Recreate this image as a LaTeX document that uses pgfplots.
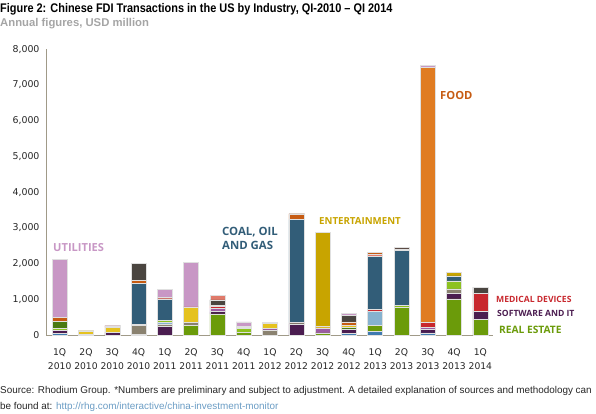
\documentclass[border=0pt]{standalone}
\usepackage{fontspec}
\setmainfont{Liberation Sans}
\newfontfamily\titlefont{Liberation Sans}[FakeStretch=0.875]
\newfontfamily\labfont{Open Sans}
\newfontfamily\tickfont{DejaVu Sans}
\usepackage{pgfplots}
\pgfplotsset{compat=1.18}
\usepackage{pgfplotstable}

\definecolor{cblue}{HTML}{3F7AB0}
\definecolor{cre}{HTML}{6B9B0A}
\definecolor{csw}{HTML}{4B1D50}
\definecolor{ctan}{HTML}{8A8270}
\definecolor{clb}{HTML}{86B2CF}
\definecolor{clg}{HTML}{8DC21F}
\definecolor{cdg}{HTML}{4B7A12}
\definecolor{cmp}{HTML}{9B5BA3}
\definecolor{cye}{HTML}{E5C21F}
\definecolor{cred}{HTML}{C8282E}
\definecolor{ccoal}{HTML}{325D78}
\definecolor{csal}{HTML}{E07A6A}
\definecolor{cbrick}{HTML}{C65B12}
\definecolor{cgold}{HTML}{C8A400}
\definecolor{cfood}{HTML}{E07C22}
\definecolor{cdgray}{HTML}{4A4540}
\definecolor{cpink}{HTML}{C897C5}
\definecolor{caxis}{HTML}{A09A88}
\definecolor{csub}{HTML}{A5A5A5}
\definecolor{curl}{HTML}{6A9CC4}

\pgfplotstableread{
x blue re sw tan lb lg dg mp ye red coal sal brick gold food dgray pink salT
0 56 0 64 0 0 67 186 0 0 0 0 0 131 0 0 0 1616 0
1 0 0 0 20 0 0 0 0 95 0 0 0 0 0 0 0 25 0
2 0 0 64 20 0 0 0 0 130 45 0 0 0 0 0 0 11 0
3 28 0 0 242 0 0 0 0 0 38 1130 0 100 0 0 470 0 0
4 0 0 252 56 56 56 0 0 0 0 590 48 0 0 0 0 224 0
5 0 262 0 83 0 0 0 0 420 0 0 0 20 0 0 0 1240 0
6 0 590 65 0 0 0 0 90 0 50 0 0 30 0 0 160 0 135
7 0 65 0 0 0 120 0 0 0 30 0 0 0 0 0 35 120 0
8 0 0 0 120 0 0 0 70 140 0 0 0 0 0 0 0 25 0
9 0 0 310 40 0 0 0 0 0 0 2890 0 150 0 0 0 10 0
10 0 60 0 0 0 0 0 140 50 0 0 0 0 2620 0 0 10 0
11 50 0 110 0 0 0 50 0 60 0 0 0 100 0 0 170 70 0
12 110 170 0 0 390 0 0 0 0 45 1490 50 50 0 0 0 0 0
13 0 790 0 0 0 40 0 0 0 0 1550 30 0 0 0 50 0 0
14 60 0 90 0 0 0 0 60 0 150 0 0 0 0 7150 0 50 0
15 0 1010 160 120 0 225 0 0 0 0 140 0 0 90 0 0 0 0
16 0 440 213 0 0 0 0 0 0 515 0 0 0 0 0 170 0 0
}\datatable

\begin{document}
\begin{tikzpicture}[x=1pt,y=1pt]
\path[use as bounding box] (0,0) rectangle (596,413);
\begin{axis}[
  at={(46pt,78pt)}, anchor=south west,
  scale only axis, width=447pt, height=285.7pt,
  xmin=-0.52, xmax=16.48, ymin=0, ymax=8000,
  axis x line=bottom, axis y line=left,
  axis line style={-, caxis, line width=1pt},
  ybar stacked, bar width=15pt,
  major tick length=0pt,
  ytick={0,1000,...,8000},
  /pgf/number format/assume math mode=true,
  /pgf/number format/1000 sep={,},
  scaled y ticks=false,
  yticklabel style={font=\tickfont\fontsize{9.4}{11}\selectfont, text=black!85, xshift=-3pt},
  xtick={0,...,16},
  xticklabels={{1Q\\[3.5pt]2010},{2Q\\[3.5pt]2010},{3Q\\[3.5pt]2010},{4Q\\[3.5pt]2010},{1Q\\[3.5pt]2011},{2Q\\[3.5pt]2011},{3Q\\[3.5pt]2011},{4Q\\[3.5pt]2011},{1Q\\[3.5pt]2012},{2Q\\[3.5pt]2012},{3Q\\[3.5pt]2012},{4Q\\[3.5pt]2012},{1Q\\[3.5pt]2013},{2Q\\[3.5pt]2013},{3Q\\[3.5pt]2013},{4Q\\[3.5pt]2013},{1Q\\[3.5pt]2014}},
  xticklabel style={align=center, font=\tickfont\fontsize{9.2}{10.5}\selectfont, text=black!85, yshift=-10.5pt},
  every axis plot/.append style={draw=black!12, line width=0.5pt},
  clip=false,
]
\addplot[fill=cblue] table[x=x,y=blue]{\datatable};
\addplot[fill=cre] table[x=x,y=re]{\datatable};
\addplot[fill=csw] table[x=x,y=sw]{\datatable};
\addplot[fill=ctan] table[x=x,y=tan]{\datatable};
\addplot[fill=clb] table[x=x,y=lb]{\datatable};
\addplot[fill=clg] table[x=x,y=lg]{\datatable};
\addplot[fill=cdg] table[x=x,y=dg]{\datatable};
\addplot[fill=cmp] table[x=x,y=mp]{\datatable};
\addplot[fill=cye] table[x=x,y=ye]{\datatable};
\addplot[fill=cred] table[x=x,y=red]{\datatable};
\addplot[fill=ccoal] table[x=x,y=coal]{\datatable};
\addplot[fill=csal] table[x=x,y=sal]{\datatable};
\addplot[fill=cbrick] table[x=x,y=brick]{\datatable};
\addplot[fill=cgold] table[x=x,y=gold]{\datatable};
\addplot[fill=cfood] table[x=x,y=food]{\datatable};
\addplot[fill=cdgray] table[x=x,y=dgray]{\datatable};
\addplot[fill=cpink] table[x=x,y=pink]{\datatable};
\addplot[fill=csal] table[x=x,y=salT]{\datatable};
\end{axis}

% title
\node[anchor=west, inner sep=0pt, font=\titlefont\bfseries\fontsize{12.5}{14}\selectfont] at (0,404) {Figure 2: Chinese FDI Transactions in the US by Industry, QI-2010 – QI 2014};
\node[anchor=west, inner sep=0pt, font=\bfseries\fontsize{11.3}{13}\selectfont, text=csub] at (0,389) {Annual figures, USD million};

% annotations
\node[anchor=west, inner sep=0pt, text=cpink, font=\labfont\bfseries\fontsize{11.1}{13}\selectfont] at (53,165) {UTILITIES};
\node[anchor=north west, inner sep=0pt, align=left, text=ccoal, font=\labfont\bfseries\fontsize{11.4}{14}\selectfont] at (222,186) {COAL, OIL\\AND GAS};
\node[anchor=west, inner sep=0pt, text=cgold, font=\labfont\bfseries\fontsize{9.7}{12}\selectfont] at (319,192) {ENTERTAINMENT};
\node[anchor=west, inner sep=0pt, text=cbrick, font=\labfont\bfseries\fontsize{11.2}{13}\selectfont] at (440,318) {FOOD};
\node[anchor=west, inner sep=0pt, text=cred, font=\labfont\bfseries\fontsize{8.6}{10}\selectfont] at (496,114) {MEDICAL DEVICES};
\node[anchor=west, inner sep=0pt, text=csw, font=\labfont\bfseries\fontsize{8.6}{10}\selectfont] at (497,100) {SOFTWARE AND IT};
\node[anchor=west, inner sep=0pt, text=cre, font=\labfont\bfseries\fontsize{10.2}{12}\selectfont] at (499,83) {REAL ESTATE};

% footnote
\node[anchor=west, inner sep=0pt, font=\fontsize{9.9}{11}\selectfont, text=black!85] at (0,22) {Source: Rhodium Group. *Numbers are preliminary and subject to adjustment. A detailed explanation of sources and methodology can};
\node[anchor=west, inner sep=0pt, font=\fontsize{9.9}{11}\selectfont, text=black!85] at (0,6) {be found at: \textcolor{curl}{http://rhg.com/interactive/china-investment-monitor}};
\end{tikzpicture}
\end{document}
